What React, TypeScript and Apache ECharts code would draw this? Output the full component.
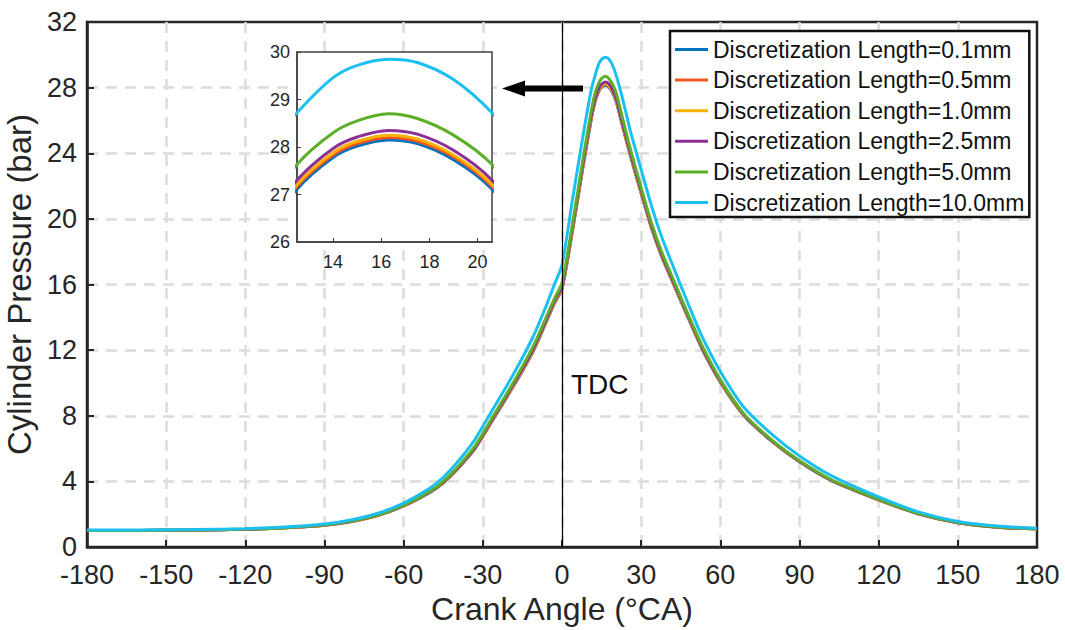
import React, { useEffect, useRef } from "react";
import * as echarts from "echarts";

// Crank angles (°CA) at which the curves were read
const angles = [
  -180, -160, -140, -120, -105, -90, -80, -70, -60, -50, -45, -40, -33, -26, -18,
  -11, -6, -3, 0, 4, 8, 11, 12.5, 14, 15, 16.3, 17.5, 19, 20.6, 23, 26, 30, 34, 38,
  43, 48, 53, 60, 69, 80, 90, 102, 120, 135, 150, 165, 180,
];

const seriesNames = [
  "Discretization Length=0.1mm",
  "Discretization Length=0.5mm",
  "Discretization Length=1.0mm",
  "Discretization Length=2.5mm",
  "Discretization Length=5.0mm",
  "Discretization Length=10.0mm",
];

const seriesColors = ["#0072BD", "#F2561D", "#FFB000", "#8B2F96", "#5DAE28", "#1BC0F0"];

// Cylinder pressure (bar)
const p01 = [
  1.0, 1.01, 1.03, 1.08, 1.17, 1.33, 1.55, 1.91, 2.5, 3.33, 3.9, 4.68, 5.98, 7.8, 9.9,
  11.9, 13.7, 14.8, 15.75, 19.3, 23.2, 26.0, 27.11, 27.78, 28.02, 28.15, 28.07, 27.73, 27.11, 25.6,
  23.8, 21.55, 19.4, 17.62, 15.75, 13.9, 12.1, 10.05, 8.0, 6.38, 5.2, 4.06, 2.87, 2.03, 1.48,
  1.2, 1.1,
];
const p05 = [
  1.0, 1.01, 1.03, 1.08, 1.17, 1.33, 1.55, 1.92, 2.51, 3.35, 3.92, 4.7, 6.01, 7.83, 9.94,
  11.94, 13.74, 14.85, 15.8, 19.36, 23.27, 26.06, 27.17, 27.83, 28.07, 28.2, 28.12, 27.79, 27.17, 25.66,
  23.85, 21.6, 19.44, 17.66, 15.79, 13.93, 12.13, 10.08, 8.02, 6.4, 5.21, 4.07, 2.88, 2.03, 1.48,
  1.2, 1.1,
];
const p10 = [
  1.0, 1.01, 1.03, 1.08, 1.17, 1.33, 1.56, 1.92, 2.52, 3.36, 3.93, 4.72, 6.03, 7.86, 9.97,
  11.98, 13.78, 14.89, 15.85, 19.41, 23.32, 26.11, 27.21, 27.88, 28.12, 28.25, 28.17, 27.83, 27.21, 25.71,
  23.9, 21.64, 19.48, 17.69, 15.82, 13.96, 12.15, 10.1, 8.04, 6.41, 5.22, 4.08, 2.88, 2.04, 1.49,
  1.2, 1.1,
];
const p25 = [
  1.0, 1.01, 1.03, 1.08, 1.17, 1.34, 1.56, 1.93, 2.53, 3.37, 3.95, 4.74, 6.06, 7.9, 10.02,
  12.03, 13.84, 14.96, 15.92, 19.5, 23.42, 26.21, 27.3, 27.97, 28.21, 28.35, 28.27, 27.93, 27.3, 25.8,
  23.98, 21.72, 19.54, 17.74, 15.87, 14.0, 12.19, 10.13, 8.06, 6.42, 5.23, 4.08, 2.89, 2.04, 1.49,
  1.21, 1.11,
];
const p50 = [
  1.0, 1.01, 1.03, 1.09, 1.18, 1.35, 1.58, 1.95, 2.55, 3.4, 4.0, 4.8, 6.15, 8.0, 10.15,
  12.2, 14.0, 15.1, 16.1, 19.7, 23.7, 26.5, 27.63, 28.3, 28.55, 28.7, 28.6, 28.25, 27.63, 26.1,
  24.2, 21.9, 19.7, 17.9, 16.0, 14.1, 12.3, 10.2, 8.1, 6.45, 5.25, 4.1, 2.9, 2.05, 1.5,
  1.22, 1.12,
];
const p100 = [
  1.03, 1.04, 1.06, 1.12, 1.22, 1.4, 1.65, 2.04, 2.68, 3.6, 4.25, 5.1, 6.55, 8.45, 10.65,
  12.8, 14.7, 15.95, 17.2, 21.2, 25.1, 27.8, 28.72, 29.46, 29.72, 29.85, 29.78, 29.42, 28.72, 27.3,
  25.3, 23.0, 20.75, 18.8, 16.75, 14.75, 12.85, 10.7, 8.5, 6.8, 5.55, 4.35, 3.05, 2.14, 1.56,
  1.28, 1.15,
];

const insetXLabels = [14, 16, 18, 20];

export default function App() {
  const ref = useRef<HTMLDivElement>(null);

  useEffect(() => {
    if (!ref.current) return;
    const chart = echarts.init(ref.current, null, { renderer: "svg" });
    const font = "'Liberation Sans', Arial, Helvetica, sans-serif";
    const dark = "#262626";
    const values = [p01, p05, p10, p25, p50, p100];
    const mk = (arr: number[]) => angles.map((a, i) => [a, arr[i]]);

    const mainSeries = values.map((v, i) => ({
      name: seriesNames[i],
      type: "line",
      xAxisIndex: 0,
      yAxisIndex: 0,
      data: mk(v),
      symbol: "none",
      showSymbol: false,
      smooth: 0.25,
      lineStyle: { color: seriesColors[i], width: 3 },
      itemStyle: { color: seriesColors[i] },
      emphasis: { disabled: true },
      z: 2,
      markLine:
        i === 0
          ? {
              silent: true,
              symbol: ["none", "none"],
              label: { show: false },
              lineStyle: { color: "#000", width: 1.2, type: "solid" },
              emphasis: { disabled: true },
              data: [{ xAxis: 0 }],
            }
          : undefined,
    }));

    const insetSeries = values.map((v, i) => ({
      name: seriesNames[i],
      type: "line",
      xAxisIndex: 1,
      yAxisIndex: 1,
      data: mk(v),
      symbol: "none",
      showSymbol: false,
      smooth: 0.35,
      clip: true,
      lineStyle: { color: seriesColors[i], width: 3 },
      itemStyle: { color: seriesColors[i] },
      emphasis: { disabled: true },
      z: 6,
    }));

    chart.setOption({
      animation: false,
      backgroundColor: "#fff",
      grid: [
        {
          left: 87,
          right: 28,
          top: 22,
          bottom: 83,
          outerBoundsMode: "none",
          containLabel: false,
          show: true,
          borderColor: dark,
          borderWidth: 2.5,
          backgroundColor: "transparent",
        },
        {
          left: 297,
          top: 52,
          width: 195,
          height: 190,
          outerBoundsMode: "none",
          containLabel: false,
          show: true,
          borderColor: "#404040",
          borderWidth: 1.5,
          backgroundColor: "#fff",
          z: 3,
        },
      ],
      xAxis: [
        {
          type: "value",
          gridIndex: 0,
          min: -180,
          max: 180,
          interval: 30,
          name: "Crank Angle (°CA)",
          nameLocation: "middle",
          nameGap: 44,
          nameTextStyle: { fontSize: 32, color: dark, fontFamily: font },
          axisLine: { show: true, onZero: false, lineStyle: { color: dark, width: 2.5 } },
          axisTick: { show: true, inside: true, length: 7, lineStyle: { color: dark, width: 2 } },
          axisLabel: { fontSize: 27, color: dark, margin: 14, fontFamily: font },
          splitLine: {
            show: true,
            showMinLine: false,
            showMaxLine: false,
            lineStyle: { color: "#dcdcdc", width: 2.5, type: [11, 8] },
          },
        },
        {
          type: "value",
          gridIndex: 1,
          min: 12.5,
          max: 20.6,
          z: 5,
          axisLine: { show: true, onZero: false, lineStyle: { color: "#404040", width: 1.5 } },
          axisTick: {
            show: true,
            inside: true,
            length: 4,
            customValues: insetXLabels,
            lineStyle: { color: "#404040", width: 1 },
          },
          axisLabel: {
            fontSize: 18,
            color: dark,
            margin: 11,
            fontFamily: font,
            customValues: insetXLabels,
          },
          splitLine: { show: false },
        },
      ],
      yAxis: [
        {
          type: "value",
          gridIndex: 0,
          min: 0,
          max: 32,
          interval: 4,
          name: "Cylinder Pressure (bar)",
          nameLocation: "middle",
          nameGap: 36,
          nameTextStyle: { fontSize: 33, color: dark, fontFamily: font },
          axisLine: { show: true, onZero: false, lineStyle: { color: dark, width: 2.5 } },
          axisTick: { show: true, inside: true, length: 7, lineStyle: { color: dark, width: 2 } },
          axisLabel: { fontSize: 27, color: dark, margin: 10, fontFamily: font },
          splitLine: {
            show: true,
            showMinLine: false,
            showMaxLine: false,
            lineStyle: { color: "#dcdcdc", width: 2.5, type: [11, 8] },
          },
        },
        {
          type: "value",
          gridIndex: 1,
          min: 26,
          max: 30,
          interval: 1,
          z: 5,
          axisLine: { show: true, onZero: false, lineStyle: { color: "#404040", width: 1.5 } },
          axisTick: { show: true, inside: true, length: 4, lineStyle: { color: "#404040", width: 1 } },
          axisLabel: { fontSize: 18, color: dark, margin: 7, fontFamily: font },
          splitLine: { show: false },
        },
      ],
      legend: {
        orient: "vertical",
        left: 670,
        top: 31,
        itemWidth: 33,
        itemHeight: 3,
        itemGap: 7.6,
        padding: [7, 5, 3, 5],
        borderColor: "#111",
        borderWidth: 2.5,
        backgroundColor: "#fff",
        selectedMode: false,
        textStyle: { fontSize: 23, color: "#111", fontFamily: font, lineHeight: 22 },
        data: seriesNames.map((n) => ({ name: n, icon: "rect" })),
        z: 8,
      },
      graphic: [
        {
          type: "text",
          x: 571,
          y: 384,
          z: 10,
          style: {
            text: "TDC",
            fontSize: 28,
            fontFamily: font,
            fill: "#111",
            verticalAlign: "middle",
            align: "left",
          },
        },
        {
          type: "rect",
          z: 10,
          shape: { x: 520, y: 85.5, width: 63, height: 6 },
          style: { fill: "#000" },
        },
        {
          type: "polygon",
          z: 10,
          shape: {
            points: [
              [502, 88.5],
              [525, 80.5],
              [525, 96.5],
            ],
          },
          style: { fill: "#000" },
        },
      ],
      series: [...mainSeries, ...insetSeries],
    });

    return () => chart.dispose();
  }, []);

  return (
    <div
      ref={ref}
      style={{ position: "fixed", left: 0, top: 0, width: 1065, height: 630, background: "#fff" }}
    />
  );
}
